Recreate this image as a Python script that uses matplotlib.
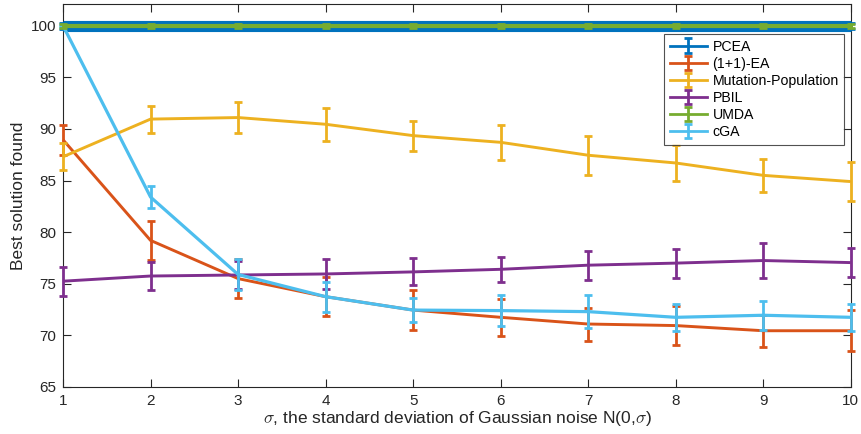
import matplotlib
matplotlib.use("Agg")
import matplotlib.pyplot as plt
import numpy as np

plt.rcParams['font.family'] = ['Liberation Sans', 'DejaVu Sans']
plt.rcParams['mathtext.fontset'] = 'cm'

sigma = [1, 2, 3, 4, 5, 6, 7, 8, 9, 10]

pcea = [100, 100, 100, 100, 100, 100, 100, 100, 100, 100]
pcea_err = [0.3, 0.3, 0.3, 0.3, 0.3, 0.3, 0.3, 0.3, 0.3, 0.3]

ea = [88.95, 79.2, 75.5, 73.75, 72.45, 71.75, 71.1, 70.95, 70.45, 70.45]
ea_err = [1.45, 1.85, 1.9, 1.9, 1.9, 1.8, 1.6, 1.85, 1.55, 2.0]

mutpop = [87.3, 90.95, 91.1, 90.45, 89.35, 88.7, 87.45, 86.7, 85.5, 84.9]
mutpop_err = [1.3, 1.3, 1.5, 1.6, 1.45, 1.7, 1.9, 1.7, 1.6, 1.9]

pbil = [75.25, 75.75, 75.85, 75.95, 76.15, 76.4, 76.8, 77.0, 77.25, 77.05]
pbil_err = [1.4, 1.35, 1.4, 1.45, 1.3, 1.2, 1.4, 1.4, 1.7, 1.4]

umda = [100, 100, 100, 100, 100, 100, 100, 100, 100, 100]
umda_err = [0.2, 0.2, 0.2, 0.2, 0.2, 0.2, 0.2, 0.2, 0.2, 0.2]

cga = [100, 83.4, 75.9, 73.75, 72.45, 72.4, 72.3, 71.75, 71.95, 71.75]
cga_err = [0, 1.1, 1.5, 1.45, 1.2, 1.5, 1.6, 1.3, 1.4, 1.3]

labels = ['PCEA', '(1+1)-EA', 'Mutation-Population', 'PBIL', 'UMDA', 'cGA']
colors = ['#0072BD', '#D95319', '#EDB120', '#7E2F8E', '#77AC30', '#4DBEEE']

fig = plt.figure(figsize=(8.62, 4.34), dpi=100)
ax = fig.add_axes([0.0731, 0.1083, 0.9139, 0.8825])

series = [(pcea, pcea_err), (ea, ea_err), (mutpop, mutpop_err),
          (pbil, pbil_err), (umda, umda_err), (cga, cga_err)]
widths = [8, 2.1, 2.1, 2.1, 3, 2.3]
zorders = [3, 4, 5, 6, 8, 7]
for (vals, errs), col, lw, z in zip(series, colors, widths, zorders):
    ax.errorbar(sigma, vals, yerr=errs, fmt='none', ecolor=col, elinewidth=2,
                capsize=3, capthick=2, clip_on=False, zorder=z)
    ax.plot(sigma, vals, color=col, lw=lw, zorder=z + 0.5, clip_on=False,
            solid_capstyle='butt')

# legend proxies (normal line width)
for lab, col in zip(labels, colors):
    ax.errorbar([np.nan], [np.nan], yerr=[1], color=col, lw=2, elinewidth=2,
                capsize=3, capthick=2, label=lab)

ax.set_xlim(1, 10)
ax.set_ylim(65, 102.1)
ax.set_xticks(sigma)
ax.set_yticks(np.arange(65, 101, 5))
ax.tick_params(direction='in', top=True, right=True, length=5.5, width=0.8,
               labelsize=11, colors='#262626', pad=5)
for s in ax.spines.values():
    s.set_color('#262626')
    s.set_linewidth(0.8)

ax.set_xlabel(r'$\sigma$, the standard deviation of Gaussian noise N(0,$\sigma$)',
              fontsize=12.5, color='#262626', labelpad=1)
ax.set_ylabel('Best solution found', fontsize=12.5, color='#262626', labelpad=3)

leg = ax.legend(loc='upper right', bbox_to_anchor=(0.992, 0.922), borderaxespad=0,
                fontsize=10.2, frameon=True, fancybox=False, handlelength=2.6,
                handletextpad=0.4, labelspacing=0.22, borderpad=0.4)
leg.set_zorder(20)
leg.get_frame().set_edgecolor('#262626')
leg.get_frame().set_linewidth(0.8)

fig.savefig('out.png', dpi=100)
